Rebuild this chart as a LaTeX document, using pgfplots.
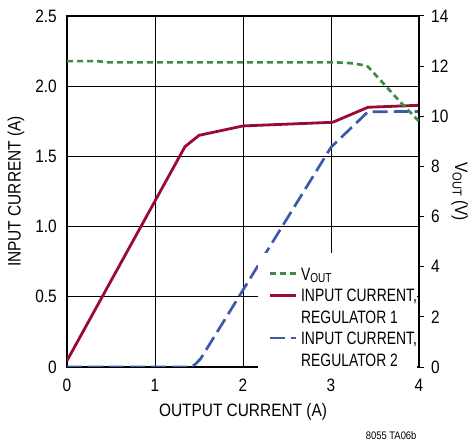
\documentclass[border=0pt]{standalone}
\usepackage{fontspec}
\setmainfont{Liberation Sans}[FakeStretch=0.86]
\newfontfamily\legf{Liberation Sans}[FakeStretch=0.775]
\usepackage{pgfplots}
\pgfplotsset{compat=1.18}
\definecolor{cred}{RGB}{155,10,55}
\definecolor{cgreen}{RGB}{60,140,70}
\definecolor{cblue}{RGB}{60,90,170}
\newcommand{\sub}[1]{\raisebox{-2.5bp}{\fontsize{13}{13}\selectfont #1}}
\newcommand{\bigf}{\fontsize{18}{21}\selectfont}
\begin{document}
\begin{tikzpicture}
\path[use as bounding box] (-67bp,-78bp) rectangle (408bp,367bp);
\begin{axis}[
  at={(0,0)}, anchor=south west, scale only axis,
  width=352bp, height=351bp,
  xmin=0, xmax=4, ymin=0, ymax=2.5,
  xtick={0,1,2,3,4}, ytick={0,0.5,1,1.5,2,2.5},
  yticklabels={0,0.5,1.0,1.5,2.0,2.5},
  xticklabels={0,1,2,3,4},
  xtick pos=bottom, ytick pos=left,
  major tick length=0pt,
  grid=major, major grid style={black, line width=0.8bp},
  axis line style={black, line width=1.3bp},
  /pgf/number format/assume math mode=true,
  tick label style={font=\bigf},
  label style={font=\bigf},
  yticklabel style={anchor=east, inner sep=0pt, xshift=-10bp},
  xticklabel style={anchor=north, inner sep=0pt, yshift=-11.5bp},
  xlabel={OUTPUT CURRENT (A)}, ylabel={INPUT CURRENT (A)},
  xlabel style={at={(axis description cs:0.5,-0.128)}, anchor=center},
  ylabel style={at={(axis description cs:-0.145,0.5)}, anchor=center},
]
\addplot[cred, line width=2.8bp, line join=round] coordinates {
(0,0.045) (1.34,1.569) (1.5,1.65) (2.0,1.717) (3.02,1.743) (3.42,1.85) (4,1.864)};
\addplot[cblue, line width=2.7bp, line join=round, dash pattern=on 15bp off 6bp] coordinates {
(0,0) (1.38,0) (1.45,0.015) (1.52,0.06) (3.0,1.565) (3.42,1.818) (4,1.82)};
\end{axis}
\begin{axis}[
  at={(0,0)}, anchor=south west, scale only axis,
  width=352bp, height=351bp,
  xmin=0, xmax=4, ymin=0, ymax=14,
  axis x line=none, axis y line*=right,
  ytick={0,2,...,14},
  tick align=outside, major tick length=5bp,
  tick style={black, line width=1bp},
  axis line style={black, line width=1.3bp},
  /pgf/number format/assume math mode=true,
  tick label style={font=\bigf},
  label style={font=\bigf},
  yticklabel style={anchor=west, inner sep=0pt, xshift=7bp},
  ylabel={V\sub{OUT} (V)},
  ylabel style={at={(axis description cs:1.116,0.5)}, anchor=center, rotate=180},
  legend image code/.code={\path (-10bp,0bp); \draw[#1] (0bp,0bp) -- (26bp,0bp);},
  legend cell align=left,
  legend style={at={(rel axis cs:0.543,0.325)}, anchor=north west,
    fill=white, draw=none, inner xsep=0bp, inner ysep=2bp,
    row sep=8.5bp, column sep=4bp, font=\bigf\legf,
    nodes={inner sep=0pt, text height=13bp, text depth=0bp}},
]
\addlegendimage{empty legend}
\addlegendentry[text height=3.5bp]{}
\addplot[cgreen, line width=2.7bp, line join=round, dash pattern=on 6bp off 4bp] coordinates {
(0,12.2) (0.35,12.2) (0.45,12.15) (3.05,12.15) (3.22,12.12) (3.3,12.08) (3.38,12.03) (3.42,11.98) (3.59,11.33) (3.78,10.6) (4,9.8)};
\addlegendentry{V\sub{OUT}}
\addlegendimage{cred, line width=2.8bp}
\addlegendentry{INPUT CURRENT,}
\addlegendimage{empty legend}
\addlegendentry{REGULATOR 1}
\addlegendimage{cblue, line width=2.7bp, dash pattern=on 15bp off 6bp}
\addlegendentry{INPUT CURRENT,}
\addlegendimage{empty legend}
\addlegendentry{REGULATOR 2}
\end{axis}
\node[anchor=base east, font=\fontsize{11}{12}\selectfont] at (353bp,-72bp) {8055 TA06b};
\end{tikzpicture}
\end{document}
